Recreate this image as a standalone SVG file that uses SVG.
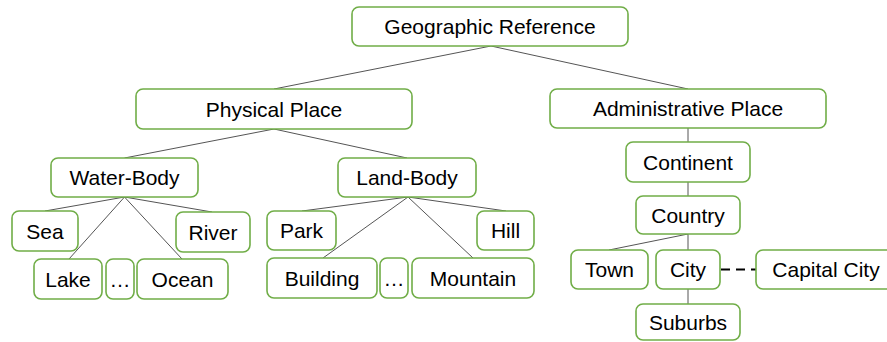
<svg xmlns="http://www.w3.org/2000/svg" width="887" height="342" viewBox="0 0 887 342">
<style>
.n rect{fill:#fff;stroke:#70AD47;stroke-width:1.6}
.n text{font-family:"Liberation Sans",Arial,sans-serif;font-size:21px;fill:#000;text-anchor:middle}
.c line{stroke:#555;stroke-width:1}
.c line.d{stroke:#000;stroke-width:2;stroke-dasharray:9,6}
</style>
<rect width="887" height="342" fill="#fff"/>
<g class="c">
<line x1="491" y1="46" x2="274" y2="89"/>
<line x1="491" y1="46" x2="688" y2="89"/>
<line x1="274" y1="129" x2="124.5" y2="158"/>
<line x1="274" y1="129" x2="407" y2="158"/>
<line x1="124.5" y1="197" x2="45" y2="211"/>
<line x1="124.5" y1="197" x2="212" y2="212"/>
<line x1="124.5" y1="197" x2="69" y2="259"/>
<line x1="124.5" y1="197" x2="182" y2="259"/>
<line x1="408" y1="197" x2="302" y2="211"/>
<line x1="408" y1="197" x2="506" y2="211"/>
<line x1="408" y1="197" x2="323" y2="258"/>
<line x1="408" y1="197" x2="473" y2="258"/>
<line x1="688" y1="128" x2="688" y2="142"/>
<line x1="688" y1="182" x2="688" y2="196"/>
<line x1="688" y1="234" x2="609" y2="250"/>
<line x1="688" y1="234" x2="688" y2="250"/>
<line x1="688" y1="289" x2="688" y2="304"/>
<line class="d" x1="721" y1="269.5" x2="756" y2="269.5"/>
</g>
<g id="geo" class="n"><rect x="352" y="7" width="276" height="39" rx="7"/><text x="490" y="34">Geographic Reference</text></g>
<g id="physical" class="n"><rect x="136" y="89" width="276" height="40" rx="7"/><text x="274" y="116.5">Physical Place</text></g>
<g id="admin" class="n"><rect x="550" y="89" width="276" height="39" rx="7"/><text x="688" y="116">Administrative Place</text></g>
<g id="water" class="n"><rect x="51" y="158" width="147" height="39" rx="7"/><text x="124.5" y="185">Water-Body</text></g>
<g id="land" class="n"><rect x="338" y="158" width="138" height="39" rx="7"/><text x="407" y="185">Land-Body</text></g>
<g id="sea" class="n"><rect x="12" y="211" width="66" height="40" rx="7"/><text x="45" y="238.5">Sea</text></g>
<g id="river" class="n"><rect x="176" y="212" width="74" height="40" rx="7"/><text x="213" y="239.5">River</text></g>
<g id="lake" class="n"><rect x="34" y="259" width="68" height="40" rx="7"/><text x="68" y="286.5">Lake</text></g>
<g id="dots1" class="n"><rect x="106" y="259" width="28" height="40" rx="7"/><text x="120" y="286.5">…</text></g>
<g id="ocean" class="n"><rect x="137" y="259" width="91" height="40" rx="7"/><text x="182.5" y="286.5">Ocean</text></g>
<g id="park" class="n"><rect x="267" y="211" width="69" height="39" rx="7"/><text x="301.5" y="238">Park</text></g>
<g id="hill" class="n"><rect x="477" y="211" width="57" height="39" rx="7"/><text x="505.5" y="238">Hill</text></g>
<g id="building" class="n"><rect x="267" y="258" width="110" height="40" rx="7"/><text x="322" y="285.5">Building</text></g>
<g id="dots2" class="n"><rect x="380" y="258" width="28" height="40" rx="7"/><text x="394" y="285.5">…</text></g>
<g id="mountain" class="n"><rect x="412" y="258" width="122" height="40" rx="7"/><text x="473" y="285.5">Mountain</text></g>
<g id="continent" class="n"><rect x="626" y="142" width="124" height="40" rx="7"/><text x="688" y="169.5">Continent</text></g>
<g id="country" class="n"><rect x="636" y="196" width="104" height="38" rx="7"/><text x="688" y="222.5">Country</text></g>
<g id="town" class="n"><rect x="571" y="250" width="77" height="39" rx="7"/><text x="609.5" y="277">Town</text></g>
<g id="city" class="n"><rect x="656" y="250" width="64" height="39" rx="7"/><text x="688" y="277">City</text></g>
<g id="capital" class="n"><rect x="756" y="250" width="140" height="39" rx="7"/><text x="826" y="277">Capital City</text></g>
<g id="suburbs" class="n"><rect x="636" y="304" width="104" height="36" rx="7"/><text x="688" y="330">Suburbs</text></g>
</svg>
